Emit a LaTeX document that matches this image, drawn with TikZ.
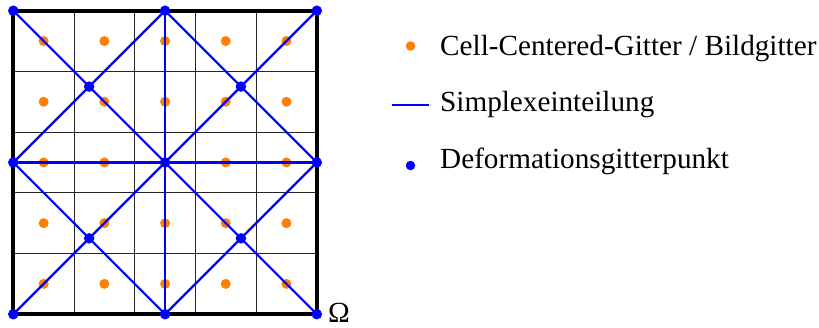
\documentclass[tikz,border=0pt]{standalone}
\usepackage{fontspec}
\setmainfont{Liberation Serif}
\definecolor{dotorange}{RGB}{255,128,0}
\definecolor{simblue}{RGB}{0,0,255}
\tikzset{
  cc/.style={circle,fill=dotorange,inner sep=0pt,minimum size=10pt},
  vtx/.style={circle,fill=simblue,inner sep=0pt,minimum size=10.5pt},
  simp/.style={draw=simblue,line width=2.2pt},
  thin grid/.style={draw=black!85,line width=1pt},
  border/.style={draw=black,line width=4pt},
  lbl/.style={anchor=base west,inner sep=0pt,font=\fontsize{29.2}{34}\selectfont}
}
\begin{document}
\begin{tikzpicture}[x=1pt,y=-1pt]
\useasboundingbox (0,0) rectangle (819,327);
\begin{scope}[shift={(13.3,10.7)},x=60.7pt,y=-60.7pt]
  % thin grid
  \foreach \i in {1,2,3,4} {
    \draw[thin grid] (\i,0) -- (\i,5);
    \draw[thin grid] (0,\i) -- (5,\i);
  }
  \draw[border] (0,0) rectangle (5,5);
  % cell centers
  \foreach \i in {0,...,4} {
    \foreach \j in {0,...,4} {
      \node[cc] (c\i\j) at (\i+0.5,\j+0.5) {};
    }
  }
  % deformation grid points
  \coordinate (p00) at (0,0);
  \coordinate (pm0) at (2.5,0);
  \coordinate (p50) at (5,0);
  \coordinate (p0m) at (0,2.5);
  \coordinate (pmm) at (2.5,2.5);
  \coordinate (p5m) at (5,2.5);
  \coordinate (p05) at (0,5);
  \coordinate (pm5) at (2.5,5);
  \coordinate (p55) at (5,5);
  \coordinate (qa) at (1.25,1.25);
  \coordinate (qb) at (3.75,1.25);
  \coordinate (qc) at (1.25,3.75);
  \coordinate (qd) at (3.75,3.75);
  % simplex lines
  \draw[simp] (p00) -- (qa) -- (pmm) -- (qd) -- (p55);
  \draw[simp] (p50) -- (qb) -- (pmm) -- (qc) -- (p05);
  \draw[simp] (pm0) -- (qa) -- (p0m) -- (qc) -- (pm5) -- (qd) -- (p5m) -- (qb) -- (pm0);
  \draw[simp] (pm0) -- (pmm) -- (pm5);
  \draw[simp] (p0m) -- (pmm) -- (p5m);
  \foreach \p in {p00,pm0,p50,p0m,pmm,p5m,p05,pm5,p55,qa,qb,qc,qd}
    \node[vtx] (v\p) at (\p) {};
\end{scope}
\node[lbl] (omega) at (328,322) {Ω};
% legend
\node[cc,minimum size=9.5pt] (lcc) at (410.5,46) {};
\node[lbl] (tcc) at (440,55) {Cell-Centered-Gitter / Bildgitter};
\coordinate (ls) at (392,105);
\coordinate (le) at (429,105);
\draw[draw=simblue,line width=1.6pt] (ls) -- (le);
\node[lbl] (tsimp) at (440,111.7) {Simplexeinteilung};
\node[vtx,minimum size=9.5pt] (lvtx) at (410.5,165.5) {};
\node[lbl] (tdef) at (440,168) {Deformationsgitterpunkt};
\end{tikzpicture}
\end{document}
